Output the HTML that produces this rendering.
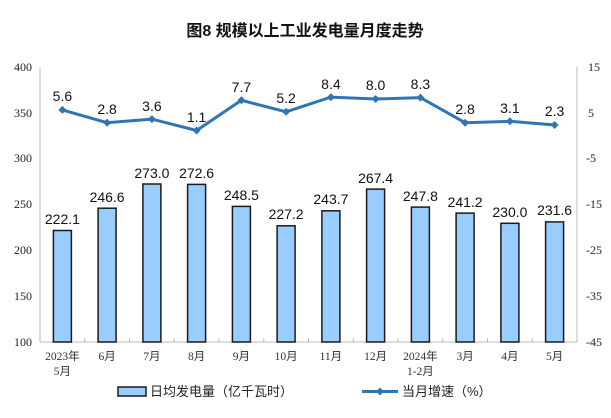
<!DOCTYPE html><html><head><meta charset="utf-8"><style>body{margin:0;background:#fff}</style></head><body>
<svg width="611" height="413" xmlns="http://www.w3.org/2000/svg">
<rect width="611" height="413" fill="#fff"/>
<text x="305" y="36" text-anchor="middle" font-family="Liberation Sans, Noto Sans CJK SC, sans-serif" font-size="16" font-weight="bold" fill="#111">图8  规模以上工业发电量月度走势</text>
<g stroke="#bbb" stroke-width="1"><line x1="40" y1="67" x2="40" y2="342"/><line x1="577" y1="67" x2="577" y2="342"/><line x1="40" y1="342" x2="577" y2="342"/>
<line x1="84.75" y1="342" x2="84.75" y2="338"/><line x1="129.5" y1="342" x2="129.5" y2="338"/><line x1="174.25" y1="342" x2="174.25" y2="338"/><line x1="219" y1="342" x2="219" y2="338"/><line x1="263.75" y1="342" x2="263.75" y2="338"/><line x1="308.5" y1="342" x2="308.5" y2="338"/><line x1="353.25" y1="342" x2="353.25" y2="338"/><line x1="398" y1="342" x2="398" y2="338"/><line x1="442.75" y1="342" x2="442.75" y2="338"/><line x1="487.5" y1="342" x2="487.5" y2="338"/><line x1="532.25" y1="342" x2="532.25" y2="338"/></g>
<g font-family="Liberation Serif, serif" font-size="12" fill="#222" text-anchor="end">
<text x="32" y="71">400</text><text x="32" y="117">350</text><text x="32" y="162">300</text><text x="32" y="208">250</text><text x="32" y="254">200</text><text x="32" y="300">150</text><text x="32" y="346">100</text></g>
<g font-family="Liberation Serif, serif" font-size="12" fill="#222" text-anchor="start">
<text x="588" y="71">15</text><text x="588" y="117">5</text><text x="586" y="162">-5</text><text x="586" y="208">-15</text><text x="586" y="254">-25</text><text x="586" y="300">-35</text><text x="586" y="346">-45</text></g>
<g fill="#99CCFF" stroke="#1a1a1a" stroke-width="1.5">
<rect x="53.4" y="230.5" width="18" height="111.5"/><rect x="98.1" y="208.2" width="18" height="133.8"/><rect x="142.9" y="184" width="18" height="158"/><rect x="187.6" y="184.4" width="18" height="157.6"/><rect x="232.4" y="206.4" width="18" height="135.6"/><rect x="277.1" y="225.8" width="18" height="116.2"/><rect x="321.9" y="210.8" width="18" height="131.2"/><rect x="366.6" y="189.1" width="18" height="152.9"/><rect x="411.4" y="207.1" width="18" height="134.9"/><rect x="456.1" y="213.1" width="18" height="128.9"/><rect x="500.9" y="223.3" width="18" height="118.7"/><rect x="545.6" y="221.9" width="18" height="120.1"/></g>
<g font-family="Liberation Sans, sans-serif" font-size="14" fill="#111" text-anchor="middle">
<text x="62.4" y="224">222.1</text><text x="107.1" y="202">246.6</text><text x="151.9" y="178">273.0</text><text x="196.6" y="178">272.6</text><text x="241.4" y="200">248.5</text><text x="286.1" y="219">227.2</text><text x="330.9" y="204">243.7</text><text x="375.6" y="183">267.4</text><text x="420.4" y="201">247.8</text><text x="465.1" y="207">241.2</text><text x="509.9" y="217">230.0</text><text x="554.6" y="215">231.6</text>
<text x="62.4" y="101">5.6</text><text x="107.1" y="114">2.8</text><text x="151.9" y="111">3.6</text><text x="196.6" y="122">1.1</text><text x="241.4" y="92">7.7</text><text x="286.1" y="103">5.2</text><text x="330.9" y="89">8.4</text><text x="375.6" y="90">8.0</text><text x="420.4" y="89">8.3</text><text x="465.1" y="114">2.8</text><text x="509.9" y="113">3.1</text><text x="554.6" y="116">2.3</text></g>
<polyline fill="none" stroke="#2E75B6" stroke-width="3" points="62.4,109.9 107.1,122.7 151.9,119.1 196.6,130.5 241.4,100.3 286.1,111.8 330.9,97.1 375.6,99 420.4,97.6 465.1,122.7 509.9,121.3 554.6,125"/>
<g fill="#2E75B6">
<path d="M62.4 105.9l4 4-4 4-4-4z"/><path d="M107.1 118.7l4 4-4 4-4-4z"/><path d="M151.9 115.1l4 4-4 4-4-4z"/><path d="M196.6 126.5l4 4-4 4-4-4z"/><path d="M241.4 96.3l4 4-4 4-4-4z"/><path d="M286.1 107.8l4 4-4 4-4-4z"/><path d="M330.9 93.1l4 4-4 4-4-4z"/><path d="M375.6 95l4 4-4 4-4-4z"/><path d="M420.4 93.6l4 4-4 4-4-4z"/><path d="M465.1 118.7l4 4-4 4-4-4z"/><path d="M509.9 117.3l4 4-4 4-4-4z"/><path d="M554.6 121l4 4-4 4-4-4z"/></g>
<g font-family="Liberation Serif, Noto Sans CJK SC, sans-serif" font-size="11.5" fill="#333" text-anchor="middle">
<text x="62.4" y="360">2023年</text><text x="62.4" y="375">5月</text><text x="107.1" y="360">6月</text><text x="151.9" y="360">7月</text><text x="196.6" y="360">8月</text><text x="241.4" y="360">9月</text><text x="286.1" y="360">10月</text><text x="330.9" y="360">11月</text><text x="375.6" y="360">12月</text><text x="420.4" y="360">2024年</text><text x="420.4" y="375">1-2月</text><text x="465.1" y="360">3月</text><text x="509.9" y="360">4月</text><text x="554.6" y="360">5月</text></g>
<rect x="118" y="387" width="28" height="9" fill="#99CCFF" stroke="#1a1a1a" stroke-width="1.5"/>
<line x1="362" y1="391.5" x2="398" y2="391.5" stroke="#2E75B6" stroke-width="3"/><path d="M380 387.5l4 4-4 4-4-4z" fill="#2E75B6"/>
<g font-family="Liberation Sans, Noto Sans CJK SC, sans-serif" font-size="13" fill="#222">
<text x="150" y="396">日均发电量（亿千瓦时）</text><text x="402" y="396">当月增速（%）</text></g>
</svg></body></html>
